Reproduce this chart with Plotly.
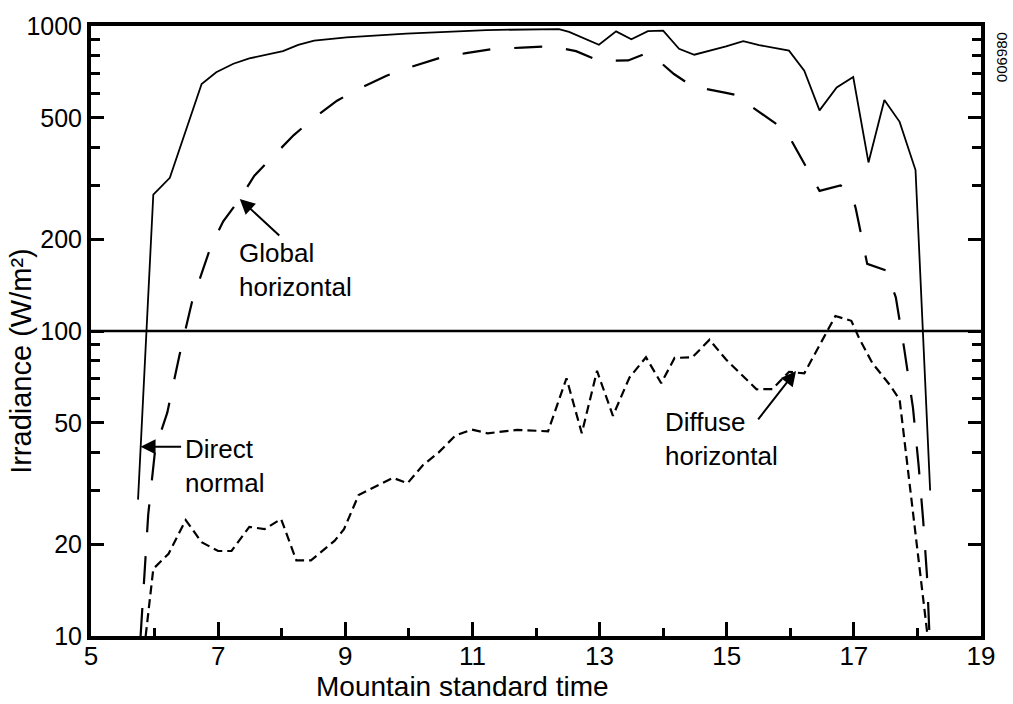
import math
import plotly.graph_objects as go

# ---- data (hours MST, W/m^2) ----
direct_t = [5.74, 5.98, 6.24, 6.74, 6.97, 7.24, 7.49, 7.76, 8.02, 8.26, 8.51, 9.02, 9.96,
            11.22, 12.36, 12.52, 12.99, 13.26, 13.5, 13.76, 14.0, 14.25, 14.49, 14.99,
            15.26, 15.51, 15.98, 16.22, 16.46, 16.73, 16.99, 17.23, 17.48, 17.72, 17.97, 18.2]
direct_v = [28, 280, 318, 645, 705, 752, 783, 807, 827, 867, 895, 918, 944,
            970, 977, 957, 868, 960, 905, 962, 965, 842, 805, 857,
            892, 866, 830, 714, 529, 629, 680, 357, 572, 485, 337, 30]

global_t = [5.78, 5.9, 6.01, 6.2, 6.39, 6.59, 6.88, 7.08, 7.34, 7.57, 7.86, 8.19, 8.51,
            8.87, 9.22, 9.64, 10.05, 10.48, 10.9, 11.34, 11.78, 12.24, 12.63, 12.99,
            13.45, 13.73, 13.86, 14.17, 14.5, 14.57, 14.97, 15.24, 15.36, 15.71, 15.94,
            16.02, 16.24, 16.46, 16.79, 16.96, 17.03, 17.21, 17.51, 17.66, 17.79, 17.93,
            18.02, 18.09, 18.15, 18.19]
global_v = [10, 25, 41, 54, 83, 125, 188, 229, 271, 323, 373, 439, 500,
            569, 624, 686, 736, 785, 815, 842, 849, 858, 827, 769,
            771, 813, 791, 696, 626, 628, 605, 588, 550, 487, 452,
            420, 349, 288, 300, 285, 252, 166, 158, 129, 88, 56,
            36, 24, 15.8, 10]

diffuse_t = [5.86, 5.98, 6.22, 6.49, 6.74, 7.0, 7.21, 7.49, 7.73, 7.99, 8.23, 8.46, 8.83,
             8.98, 9.21, 9.75, 9.98, 10.22, 10.47, 10.73, 10.99, 11.24, 11.7, 12.19,
             12.48, 12.72, 12.96, 13.21, 13.47, 13.73, 13.97, 14.18, 14.46, 14.73, 14.99,
             15.47, 15.72, 15.98, 16.22, 16.71, 16.96, 17.08, 17.29, 17.56, 17.72, 18.16]
diffuse_v = [10, 16.6, 18.6, 24, 20.3, 19, 19, 22.8, 22.4, 24.2, 17.7, 17.7, 20.5,
             22.4, 29, 33, 31.7, 36.3, 40, 45.4, 47.5, 46.2, 47.4, 46.9,
             70, 46.2, 74, 52.7, 70.4, 82, 67.4, 81.6, 82, 93.6, 80.6,
             64.4, 64.5, 73.5, 72.6, 112, 108, 95, 78.5, 66.8, 59.6, 10]

x_major = [5, 7, 9, 11, 13, 15, 17, 19]
x_minor = [6, 8, 10, 12, 14, 16, 18]
y_major = [10, 20, 50, 100, 200, 500, 1000]
y_minor = [30, 40, 60, 70, 80, 90, 300, 400, 600, 700, 800, 900]
reference_level = 100

# label text, text anchor (t, W/m2), arrow tip (t, W/m2)
label_text = ["Global<br>horizontal", "Direct<br>normal", "Diffuse<br>horizontal"]
label_pos = [(7.29, 159), (6.44, 36.2), (14.0, 44.1)]
arrow_tip = [(7.34, 271), (5.78, 41.7), (16.09, 74)]
arrow_tail_px = [(41, 38), (42, 0), (-39, 50)]

FONT = "Liberation Sans, Arial, Helvetica, sans-serif"

fig = go.Figure()
fig.add_trace(go.Scatter(x=direct_t, y=direct_v, mode="lines",
                         line=dict(color="black", width=1.8), name="Direct normal"))
fig.add_trace(go.Scatter(x=global_t, y=global_v, mode="lines",
                         line=dict(color="black", width=2.2, dash="28px,24px"),
                         name="Global horizontal"))
fig.add_trace(go.Scatter(x=diffuse_t, y=diffuse_v, mode="lines",
                         line=dict(color="black", width=2.2, dash="9px,5px"),
                         name="Diffuse horizontal"))

fig.add_shape(type="line", xref="paper", x0=0, x1=1, yref="y",
              y0=reference_level, y1=reference_level,
              line=dict(color="black", width=2.5))

for txt, (tx, ty), (px_, py_), (ox, oy) in zip(label_text, label_pos, arrow_tip, arrow_tail_px):
    fig.add_annotation(x=tx, y=math.log10(ty), xref="x", yref="y", text=txt,
                       showarrow=False, xanchor="left", yanchor="middle", align="left",
                       font=dict(size=26, color="black", family=FONT))
    fig.add_annotation(x=px_, y=math.log10(py_), xref="x", yref="y", text="",
                       showarrow=True, ax=ox, ay=oy, axref="pixel", ayref="pixel",
                       arrowhead=2, arrowsize=1.5, arrowwidth=2, arrowcolor="black")

# axis titles and side code
fig.add_annotation(x=0.4174, y=-0.083, xref="paper", yref="paper",
                   text="Mountain standard time", showarrow=False,
                   xanchor="center", yanchor="middle",
                   font=dict(size=28, color="black", family=FONT))
fig.add_annotation(x=-0.0787, y=0.451, xref="paper", yref="paper",
                   text="Irradiance (W/m²)", showarrow=False, textangle=-90,
                   xanchor="center", yanchor="middle",
                   font=dict(size=29, color="black", family=FONT))
fig.add_annotation(x=1.0225, y=0.949, xref="paper", yref="paper",
                   text="006980", showarrow=False, textangle=-90,
                   xanchor="center", yanchor="middle",
                   font=dict(size=15, color="black", family=FONT))

fig.update_layout(
    width=1013, height=704,
    margin=dict(l=91, r=32, t=26, b=68),
    paper_bgcolor="white", plot_bgcolor="white",
    showlegend=False,
    font=dict(family=FONT, color="black", size=25),
)
fig.update_xaxes(range=[5, 19], tickmode="array", tickvals=x_major,
                 ticktext=[str(v) for v in x_major],
                 ticks="inside", ticklen=14, tickwidth=2.5, tickcolor="black",
                 ticklabelstandoff=-6,
                 minor=dict(tickmode="array", tickvals=x_minor, ticks="inside",
                            ticklen=8, tickwidth=2.5, tickcolor="black", showgrid=False),
                 showline=True, linewidth=4, linecolor="black", mirror=True,
                 showgrid=False, zeroline=False,
                 tickfont=dict(size=26, family=FONT, color="black"))
fig.update_yaxes(type="log", range=[1, 3], tickmode="array", tickvals=y_major,
                 ticktext=[str(v) for v in y_major],
                 ticks="inside", ticklen=13, tickwidth=2.5, tickcolor="black",
                 minor=dict(tickmode="array", tickvals=y_minor, ticks="inside",
                            ticklen=9, tickwidth=2.5, tickcolor="black", showgrid=False),
                 showline=True, linewidth=4, linecolor="black", mirror="ticks",
                 showgrid=False, zeroline=False,
                 tickfont=dict(size=25, family=FONT, color="black"))

fig.write_html("out.html", config={"displayModeBar": False},
               post_script="document.body.style.margin='0';")
